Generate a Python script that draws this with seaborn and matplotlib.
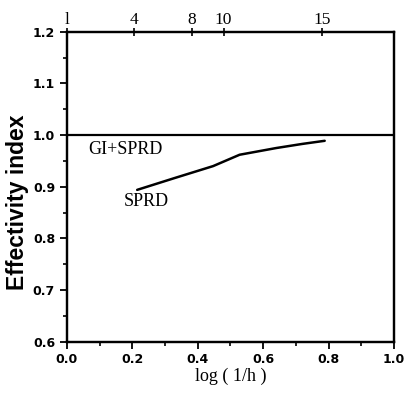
import matplotlib
matplotlib.use("Agg")
import matplotlib.pyplot as plt
import seaborn as sns
import pandas as pd
from matplotlib.ticker import MultipleLocator

# Data
sprd_x = [0.215, 0.33, 0.447, 0.528, 0.64, 0.72, 0.788]
sprd_y = [0.894, 0.917, 0.94, 0.962, 0.975, 0.983, 0.989]
gi_x = [0.0, 1.0]
gi_y = [1.0, 1.0]
top_pos = [0.0, 0.204, 0.381, 0.479, 0.78]
top_labels = ["l", "4", "8", "10", "15"]

sns.set_style("ticks")
plt.rcParams["text.color"] = "black"
plt.rcParams["axes.labelcolor"] = "black"
plt.rcParams["xtick.color"] = "black"
plt.rcParams["ytick.color"] = "black"
plt.rcParams["axes.edgecolor"] = "black"

fig = plt.figure(figsize=(4.05, 3.98), dpi=100)
ax = fig.add_axes([0.165, 0.1415, 0.808, 0.7785])

df_sprd = pd.DataFrame({"x": sprd_x, "y": sprd_y})
df_gi = pd.DataFrame({"x": gi_x, "y": gi_y})
sns.lineplot(data=df_gi, x="x", y="y", ax=ax, color="black", lw=1.6)
sns.lineplot(data=df_sprd, x="x", y="y", ax=ax, color="black", lw=1.8)

ax.set_xlim(0, 1.0)
ax.set_ylim(0.6, 1.2)
ax.xaxis.set_major_locator(MultipleLocator(0.2))
ax.xaxis.set_minor_locator(MultipleLocator(0.1))
ax.yaxis.set_major_locator(MultipleLocator(0.1))
ax.yaxis.set_minor_locator(MultipleLocator(0.05))
ax.set_xticklabels([f"{v:.1f}" for v in ax.get_xticks()], fontweight="bold", fontsize=9)
ax.set_yticklabels([f"{v:.1f}" for v in ax.get_yticks()], fontweight="bold", fontsize=9)
ax.tick_params(axis="both", which="major", length=5, width=1.3, direction="out", color="black")
ax.tick_params(axis="both", which="minor", length=3, width=1.2, direction="out", color="black")
for s in ax.spines.values():
    s.set_linewidth(1.6)
    s.set_color("black")

ax.set_xlabel("log ( 1/h )", family="Liberation Serif", fontsize=13, labelpad=1)
ax.set_ylabel("Effectivity index", fontweight="bold", fontsize=16.5, family="Liberation Sans")
ax.yaxis.set_label_coords(-0.115, 0.45)

ax2 = ax.twiny()
ax2.set_xlim(0, 1.0)
ax2.set_xticks(top_pos)
ax2.set_xticklabels(top_labels, family="Liberation Serif", fontsize=12.5)
ax2.tick_params(axis="x", direction="inout", length=6, width=1.2, pad=0, color="black")
ax2.set_xlabel("")
for s in ax2.spines.values():
    s.set_linewidth(1.6)
    s.set_color("black")

ax.text(0.065, 0.972, "GI+SPRD", family="Liberation Serif", fontsize=13, va="center", ha="left")
ax.text(0.175, 0.871, "SPRD", family="Liberation Serif", fontsize=13, va="center", ha="left")

fig.savefig("out.png", dpi=100)
